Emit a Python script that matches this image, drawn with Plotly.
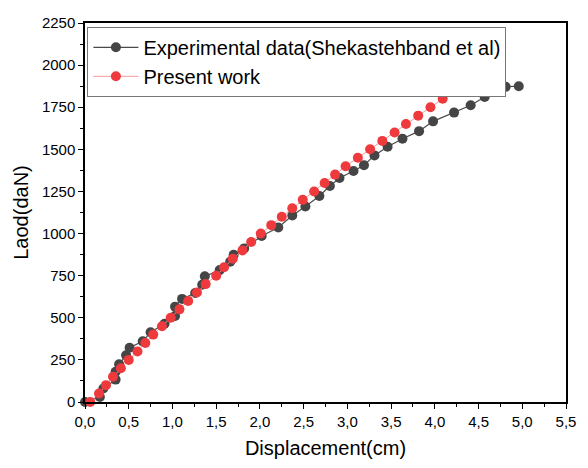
import plotly.graph_objects as go

# Experimental data (Shekastehband et al)
exp_x = [0.0, 0.17, 0.21, 0.35, 0.35, 0.39, 0.47, 0.51, 0.66, 0.75, 0.91, 1.03, 1.03,
         1.11, 1.26, 1.34, 1.37, 1.54, 1.66, 1.70, 1.82, 2.02, 2.21, 2.37, 2.52, 2.68,
         2.80, 2.91, 3.07, 3.19, 3.31, 3.46, 3.63, 3.82, 3.98, 4.22, 4.41, 4.57, 4.72,
         4.81, 4.96]
exp_y = [0, 30, 80, 133, 180, 224, 278, 322, 360, 414, 465, 511, 566,
         612, 647, 696, 746, 783, 833, 874, 912, 985, 1036, 1107, 1161, 1223,
         1282, 1330, 1371, 1406, 1464, 1515, 1563, 1608, 1666, 1718, 1762, 1811, 1840,
         1871, 1875]

# Present work
pw_x = [0.06, 0.16, 0.24, 0.32, 0.41, 0.50, 0.60, 0.69, 0.78, 0.88, 0.98, 1.08, 1.18,
        1.28, 1.38, 1.50, 1.59, 1.69, 1.80, 1.90, 2.01, 2.13, 2.25, 2.37, 2.49, 2.62,
        2.74, 2.86, 2.98, 3.12, 3.26, 3.40, 3.54, 3.67, 3.81, 3.95, 4.09, 4.22]
pw_y = [0, 50, 100, 150, 200, 250, 300, 350, 400, 450, 500, 550, 600,
        650, 700, 750, 800, 850, 900, 950, 1000, 1050, 1100, 1150, 1200, 1250,
        1300, 1350, 1400, 1450, 1500, 1550, 1600, 1650, 1700, 1750, 1800, 1850]

x_tickvals = [0.0, 0.5, 1.0, 1.5, 2.0, 2.5, 3.0, 3.5, 4.0, 4.5, 5.0, 5.5]
x_ticktext = ["0,0", "0,5", "1,0", "1,5", "2,0", "2,5", "3,0", "3,5", "4,0", "4,5", "5,0", "5,5"]
y_tickvals = [0, 250, 500, 750, 1000, 1250, 1500, 1750, 2000, 2250]
y_ticktext = ["0", "250", "500", "750", "1000", "1250", "1500", "1750", "2000", "2250"]

FONT = "Liberation Sans, Arial, sans-serif"

fig = go.Figure()
fig.add_trace(go.Scatter(
    x=exp_x, y=exp_y, mode="lines+markers",
    name="Experimental data(Shekastehband et al)",
    line=dict(color="#4a4a4a", width=1.2),
    marker=dict(color="#454545", size=10),
    cliponaxis=False,
))
fig.add_trace(go.Scatter(
    x=pw_x, y=pw_y, mode="lines+markers",
    name="Present work",
    line=dict(color="#f49a9a", width=1),
    marker=dict(color="#ee3a3c", size=10),
    cliponaxis=False,
))

axis_common = dict(
    showline=True, linecolor="black", linewidth=1.5, mirror=True,
    ticks="outside", ticklen=5, tickwidth=1.3, tickcolor="black",
    showgrid=False, zeroline=False,
    tickfont=dict(family=FONT, size=15, color="black"),
)

fig.update_xaxes(
    range=[0, 5.5], tickvals=x_tickvals, ticktext=x_ticktext,
    title=dict(text="Displacement(cm)", font=dict(family=FONT, size=20, color="black"), standoff=12),
    minor=dict(ticks="outside", ticklen=3, tickwidth=1.1, tickcolor="black", dtick=0.25, showgrid=False),
    **axis_common,
)
fig.update_yaxes(
    range=[0, 2250], tickvals=y_tickvals, ticktext=y_ticktext,
    title=dict(text="Laod(daN)", font=dict(family=FONT, size=20, color="black"), standoff=8),
    minor=dict(ticks="outside", ticklen=3, tickwidth=1.1, tickcolor="black", dtick=125, showgrid=False),
    **axis_common,
)

fig.update_layout(
    width=588, height=468,
    margin=dict(l=85, r=12, t=23, b=59),
    paper_bgcolor="white", plot_bgcolor="white",
    font=dict(family=FONT, color="black"),
    legend=dict(
        x=0.005, y=0.99, xanchor="left", yanchor="top",
        bgcolor="white", bordercolor="#777777", borderwidth=1,
        font=dict(family=FONT, size=20, color="black"),
        tracegroupgap=0, itemwidth=45,
    ),
)

fig.write_html("out.html")
